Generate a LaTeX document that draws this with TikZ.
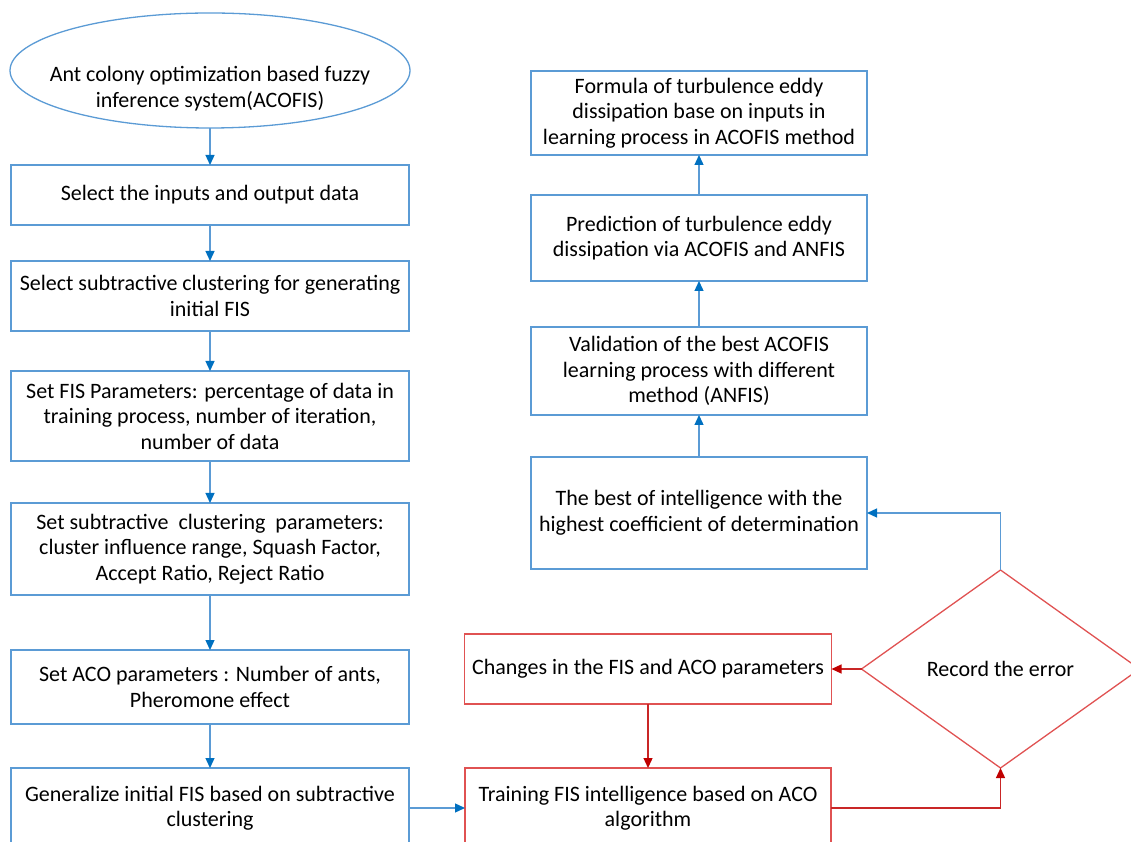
\documentclass[tikz,border=0pt]{standalone}
\usepackage{fontspec}
\usepackage{tikz}
\usetikzlibrary{arrows.meta,shapes,positioning}
\newfontfamily\calibri{Carlito}
\definecolor{boxblue}{RGB}{91,155,213}
\definecolor{arrowblue}{RGB}{0,112,192}
\definecolor{boxred}{RGB}{224,82,82}
\definecolor{arrowred}{RGB}{192,0,0}
\begin{document}
\begin{tikzpicture}[
        x=1pt, y=1pt,
        node distance=40pt and 56pt,
        every node/.style={align=center, inner sep=2pt, outer sep=0pt, font=\calibri\fontsize{22}{25.5}\selectfont},
        every path/.style={line width=1.3pt},
        block/.style={draw=boxblue, rectangle, minimum width=398pt},
        rblock/.style={draw=boxblue, rectangle, minimum width=336pt},
        redblock/.style={draw=boxred, rectangle, minimum width=366pt},
        decision/.style={draw=boxred, diamond, inner sep=0pt, minimum width=278pt, minimum height=198pt},
        blueline/.style={draw=boxblue, -{Triangle[length=10pt,width=9pt,color=arrowblue]}},
        redline/.style={draw=arrowred!85!white, -{Triangle[length=10pt,width=9pt,color=arrowred]}}
    ]
  \useasboundingbox (0,0) rectangle (1131,841);

  % Nodes
  \node (start) [draw=boxblue, ellipse, inner xsep=-40pt, inner ysep=0pt,
                 minimum width=400pt, minimum height=115pt] at (210,770.5)
        {\raisebox{-19pt}[\height][\depth]{\begin{tabular}{@{}c@{}}Ant colony optimization based fuzzy\\inference system(ACOFIS)\end{tabular}}};
  \node (inputs) [block, below=37pt of start, minimum height=60pt] {Select the inputs and output data};
  \node (subclust) [block, below=36pt of inputs, minimum height=70pt]
        {Select subtractive clustering for generating\\initial FIS};
  \node (fisparam) [block, below=40pt of subclust, minimum height=90pt]
        {Set FIS Parameters: percentage of data in\\training process, number of iteration,\\number of data};
  \node (subparam) [block, below=42pt of fisparam, minimum height=92pt]
        {Set subtractive\ \ clustering\ \ parameters:\\cluster influence range, Squash Factor,\\Accept Ratio, Reject Ratio};
  \node (acoparam) [block, below=55pt of subparam, minimum height=74pt]
        {Set ACO parameters : Number of ants,\\Pheromone effect};
  \node (geninit) [block, below=44pt of acoparam, minimum height=80pt]
        {Generalize initial FIS based on subtractive\\clustering};

  \node (train) [redblock, right=56pt of geninit, minimum height=80pt]
        {Training FIS intelligence based on ACO\\algorithm};
  \node (change) [redblock, above=64pt of train, minimum width=367pt, minimum height=70pt]
        {Changes in the FIS and ACO parameters};
  \node (err) [decision, right=30pt of change] {Record the error};

  \node (best) [rblock, minimum height=112pt] at (699,328)
        {The best of intelligence with the\\highest coefficient of determination};
  \node (valid) [rblock, above=42pt of best, minimum height=88pt]
        {Validation of the best ACOFIS\\learning process with different\\method (ANFIS)};
  \node (predict) [rblock, above=46pt of valid, minimum height=86pt]
        {Prediction of turbulence eddy\\dissipation via ACOFIS and ANFIS};
  \node (formula) [rblock, above=40pt of predict, minimum height=84pt]
        {Formula of turbulence eddy\\dissipation base on inputs in\\learning process in ACOFIS method};

  % Connectors
  \draw[blueline] (start) -- (inputs);
  \draw[blueline] (inputs) -- (subclust);
  \draw[blueline] (subclust) -- (fisparam);
  \draw[blueline] (fisparam) -- (subparam);
  \draw[blueline] (subparam) -- (acoparam);
  \draw[blueline] (acoparam) -- (geninit);
  \draw[blueline] (geninit) -- (train);
  \draw[redline] (train.east) -| (err.south);
  \draw[redline] (err.west) -- (change.east);
  \draw[redline] (change) -- (train);
  \draw[blueline] (err.north) |- (best.east);
  \draw[blueline] (best) -- (valid);
  \draw[blueline] (valid) -- (predict);
  \draw[blueline] (predict) -- (formula);
\end{tikzpicture}
\end{document}
